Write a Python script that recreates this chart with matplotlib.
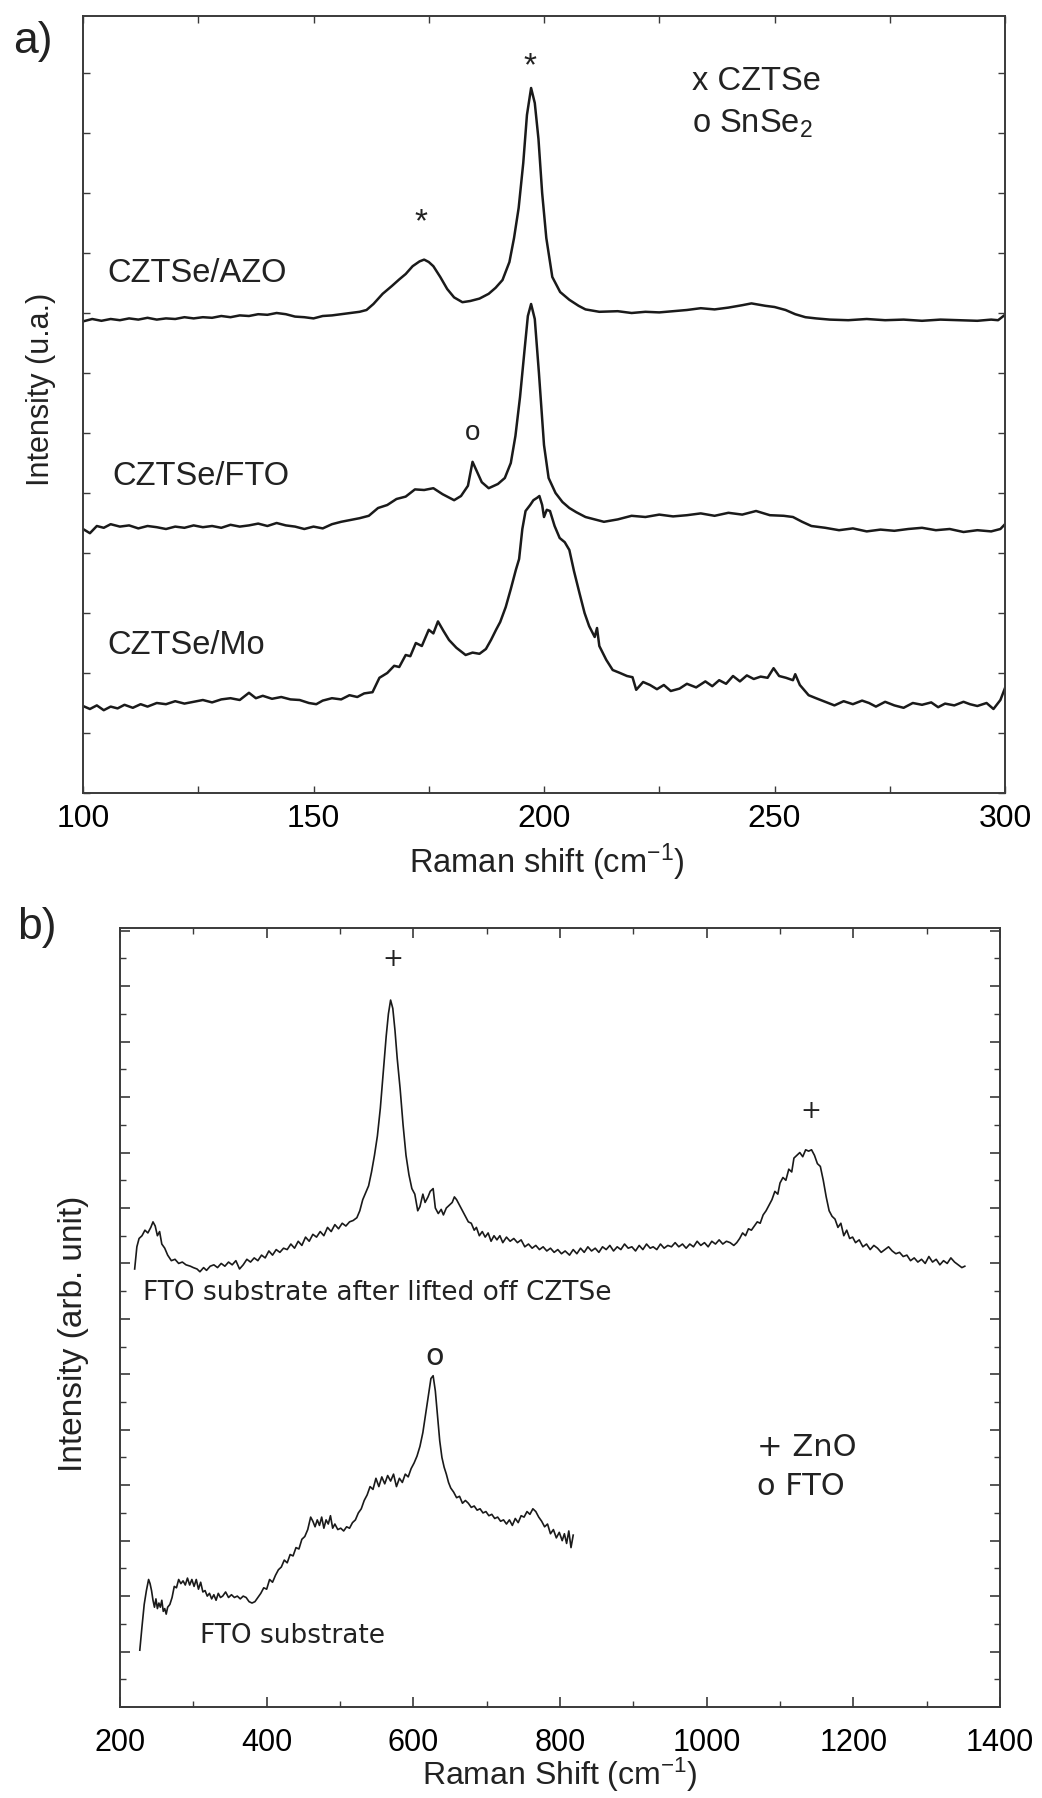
import numpy as np
import matplotlib
matplotlib.use('Agg')
import matplotlib.pyplot as plt
from matplotlib.ticker import MultipleLocator, NullFormatter

plt.rcParams['font.family'] = ['Liberation Sans', 'DejaVu Sans']
plt.rcParams['mathtext.default'] = 'regular'

# ---- panel a: Raman spectra (x in cm-1, y in arbitrary offset units) ----
azo = [(100, 7.86), (102, 7.90), (104, 7.87), (106, 7.90), (108, 7.88), (110, 7.91), (112, 7.89),
       (114, 7.92), (116, 7.89), (118, 7.91), (120, 7.90), (122, 7.93), (124, 7.91), (126, 7.93),
       (128, 7.92), (130, 7.95), (132, 7.93), (134, 7.96), (136, 7.95), (138, 7.98), (140, 7.97),
       (142, 8.00), (144, 7.98), (146, 7.94), (148, 7.93), (150, 7.91), (152, 7.95), (154, 7.96),
       (156, 7.98), (158, 8.00), (160, 8.02), (161.5, 8.05), (163, 8.15), (165, 8.32), (167, 8.45),
       (168.6, 8.56), (170, 8.65), (171.5, 8.78), (173, 8.86), (174, 8.89), (175, 8.85), (176, 8.78),
       (177.5, 8.60), (179, 8.40), (180.5, 8.26), (182.3, 8.18), (184, 8.20), (186, 8.24), (188, 8.32),
       (189.5, 8.42), (191, 8.55), (192.5, 8.85), (193.5, 9.25), (194.5, 9.75), (195.5, 10.5),
       (196.3, 11.3), (197.2, 11.75), (198, 11.5), (198.8, 10.9), (199.6, 10.0), (200.5, 9.25),
       (201.8, 8.6), (203.5, 8.35), (205.5, 8.22), (207.5, 8.12), (209, 8.06), (212, 8.02),
       (216, 8.03), (219, 8.00), (222, 8.02), (225, 8.01), (228, 8.03), (231, 8.05), (234, 8.08),
       (237, 8.06), (240, 8.09), (243, 8.13), (245, 8.16), (248, 8.12), (250, 8.10), (252.4, 8.05),
       (254.5, 7.98), (256.7, 7.93), (259, 7.91), (262, 7.89), (266, 7.88), (270, 7.90), (274, 7.88),
       (278, 7.89), (282, 7.87), (286, 7.89), (290, 7.88), (294, 7.87), (297, 7.89), (298.5, 7.88),
       (300, 7.97)]

fto = [(100, 4.40), (101.5, 4.33), (103, 4.45), (104.5, 4.42), (106, 4.48), (108, 4.44), (110, 4.46),
       (112, 4.41), (114, 4.45), (116, 4.43), (118, 4.40), (120, 4.44), (122, 4.42), (124, 4.46),
       (126, 4.43), (128, 4.45), (130, 4.42), (132, 4.47), (134, 4.44), (136, 4.46), (138, 4.49),
       (140, 4.45), (142, 4.50), (144, 4.46), (146, 4.44), (148, 4.40), (150, 4.44), (152, 4.41),
       (154, 4.48), (156, 4.52), (158, 4.55), (160, 4.58), (162, 4.62), (164, 4.75), (166, 4.80),
       (168, 4.90), (170, 4.94), (172, 5.06), (174, 5.05), (176, 5.08), (178, 4.98), (180.5, 4.88),
       (182, 4.95), (183.5, 5.12), (184.5, 5.52), (185.5, 5.35), (186.5, 5.18), (188, 5.08),
       (190, 5.15), (191.5, 5.25), (192.8, 5.50), (193.8, 5.95), (194.8, 6.60), (195.8, 7.40),
       (196.5, 7.95), (197.2, 8.15), (198, 7.90), (198.9, 7.00), (200, 5.80), (201, 5.25),
       (202.5, 5.00), (204, 4.85), (205.5, 4.75), (207, 4.68), (209, 4.60), (211, 4.56), (213, 4.52),
       (216, 4.56), (219, 4.62), (222, 4.60), (225, 4.64), (228, 4.61), (231, 4.63), (234, 4.66),
       (237, 4.62), (240, 4.67), (243, 4.64), (246, 4.70), (249, 4.63), (252, 4.62), (254, 4.60),
       (256, 4.52), (258, 4.45), (261, 4.42), (264, 4.38), (267, 4.41), (270, 4.36), (273, 4.39),
       (276, 4.37), (279, 4.40), (282, 4.42), (285, 4.38), (288, 4.40), (291, 4.35), (294, 4.38),
       (297, 4.36), (299, 4.40), (300, 4.48)]

mo = [(100, 1.45), (101.5, 1.40), (103, 1.46), (104.5, 1.38), (106, 1.44), (107.5, 1.41), (109, 1.47),
      (110.8, 1.42), (112.5, 1.48), (114, 1.44), (116, 1.50), (118, 1.48), (120, 1.53), (122, 1.49),
      (124, 1.52), (126, 1.55), (128, 1.51), (130, 1.56), (132, 1.58), (134, 1.55), (136, 1.67),
      (137.5, 1.58), (139, 1.62), (141, 1.57), (143, 1.60), (145, 1.56), (147, 1.55), (149, 1.50),
      (150.6, 1.48), (152, 1.54), (154, 1.58), (156, 1.56), (157.8, 1.63), (159.5, 1.60), (161, 1.66),
      (162.8, 1.68), (164.3, 1.92), (166, 2.00), (167.5, 2.12), (168.6, 2.10), (170, 2.30), (171, 2.28),
      (172.2, 2.50), (173.5, 2.45), (175, 2.72), (176, 2.66), (177, 2.86), (178.2, 2.70), (179.4, 2.55),
      (181, 2.42), (183, 2.30), (184.5, 2.34), (186, 2.32), (187.4, 2.40), (188.5, 2.55), (189.6, 2.72),
      (190.5, 2.85), (191.7, 3.10), (192.8, 3.40), (193.9, 3.72), (194.6, 3.90), (195.3, 4.40),
      (196, 4.70), (197, 4.80), (197.7, 4.88), (198.5, 4.92), (199, 4.95), (199.6, 4.80), (200, 4.60),
      (200.6, 4.72), (201.3, 4.70), (202.3, 4.45), (203.4, 4.25), (204.5, 4.18), (205.5, 4.05),
      (206.5, 3.70), (207.7, 3.33), (208.8, 3.00), (209.8, 2.78), (211, 2.60), (211.5, 2.75),
      (212, 2.45), (213.5, 2.22), (214.9, 2.05), (216.5, 2.00), (218, 1.95), (219.2, 1.93), (220, 1.72),
      (221.5, 1.85), (223, 1.80), (224.5, 1.73), (226, 1.80), (227.5, 1.70), (229.4, 1.74), (231, 1.82),
      (233, 1.76), (235, 1.86), (236.5, 1.78), (238, 1.88), (239.5, 1.82), (241, 1.95), (242.5, 1.86),
      (244, 1.96), (245.5, 1.90), (247, 1.94), (248.5, 1.92), (249.8, 2.08), (251, 1.95), (252.5, 1.92),
      (254, 1.88), (254.5, 1.98), (255.5, 1.80), (257.4, 1.63), (259, 1.58), (261, 1.52), (263, 1.46),
      (265, 1.53), (267, 1.48), (269, 1.54), (270.5, 1.50), (272, 1.44), (274, 1.52), (276, 1.46),
      (278, 1.42), (280, 1.50), (282, 1.47), (284, 1.51), (285.5, 1.43), (287, 1.49), (289, 1.46),
      (291, 1.52), (292.4, 1.48), (294, 1.45), (296, 1.50), (297.5, 1.40), (299, 1.55), (300, 1.75)]

# ---- panel b ----
lifted = [(220, 15.8), (223, 16.6), (226, 16.9), (230, 17.0), (234, 17.2), (238, 17.1), (242, 17.3),
          (245, 17.5), (248, 17.35), (251, 17.0), (254, 17.15), (257, 16.7), (261, 16.55), (265, 16.3),
          (270, 16.1), (275, 16.15), (280, 16.0), (285, 16.05), (290, 15.95), (296, 15.9), (300, 15.85),
          (305, 15.8), (309, 15.7), (314, 15.85), (318, 15.75), (323, 15.9), (328, 15.95), (333, 15.85),
          (338, 16.0), (343, 15.9), (348, 16.05), (353, 15.95), (358, 16.1), (363, 15.8), (368, 15.95),
          (373, 16.15), (378, 16.05), (383, 16.2), (388, 16.1), (393, 16.3), (398, 16.2), (403, 16.45),
          (408, 16.3), (413, 16.5), (418, 16.4), (423, 16.55), (428, 16.5), (433, 16.7), (438, 16.55),
          (443, 16.8), (448, 16.65), (453, 16.95), (458, 16.8), (463, 17.05), (468, 16.95), (473, 17.15),
          (478, 17.0), (483, 17.3), (488, 17.15), (493, 17.4), (498, 17.25), (503, 17.45), (508, 17.35),
          (513, 17.5), (518, 17.55), (523, 17.65), (527, 17.9), (531, 18.3), (535, 18.55), (539, 18.8),
          (543, 19.3), (547, 19.9), (551, 20.6), (555, 21.6), (559, 22.9), (563, 24.2), (566, 25.0),
          (569, 25.5), (572, 25.2), (575, 24.4), (578, 23.4), (582, 22.3), (586, 21.0), (590, 19.9),
          (594, 19.2), (598, 18.7), (602, 18.5), (606, 17.9), (609, 18.05), (613, 18.5), (616, 18.2),
          (620, 18.4), (623, 18.6), (627, 18.7), (630, 18.0), (634, 17.8), (638, 17.95), (641, 17.75),
          (645, 18.0), (649, 18.1), (653, 18.2), (656, 18.4), (659, 18.3), (663, 18.1), (667, 17.9),
          (671, 17.7), (675, 17.5), (679, 17.45), (683, 17.2), (686, 17.3), (690, 17.0), (694, 17.15),
          (698, 16.95), (702, 17.1), (706, 16.8), (710, 17.0), (714, 16.85), (718, 17.0), (722, 16.75),
          (727, 16.95), (732, 16.8), (737, 16.9), (742, 16.75), (747, 16.85), (752, 16.6), (757, 16.7),
          (762, 16.55), (767, 16.65), (772, 16.5), (777, 16.6), (782, 16.45), (787, 16.55), (792, 16.4),
          (797, 16.5), (802, 16.35), (807, 16.45), (813, 16.3), (818, 16.5), (823, 16.35), (828, 16.55),
          (833, 16.4), (838, 16.6), (843, 16.45), (848, 16.55), (853, 16.4), (858, 16.6), (863, 16.5),
          (868, 16.65), (873, 16.45), (878, 16.6), (883, 16.5), (888, 16.7), (893, 16.55), (898, 16.6),
          (903, 16.45), (908, 16.65), (913, 16.5), (918, 16.7), (923, 16.55), (927, 16.6), (932, 16.5),
          (937, 16.7), (942, 16.55), (947, 16.65), (952, 16.6), (957, 16.75), (962, 16.6), (967, 16.7),
          (972, 16.55), (977, 16.7), (982, 16.6), (987, 16.8), (992, 16.65), (997, 16.75), (1002, 16.6),
          (1007, 16.8), (1012, 16.7), (1017, 16.85), (1022, 16.7), (1027, 16.8), (1032, 16.75),
          (1037, 16.65), (1041, 16.75), (1045, 16.9), (1049, 17.1), (1053, 17.0), (1057, 17.25),
          (1061, 17.2), (1065, 17.35), (1069, 17.5), (1073, 17.45), (1077, 17.75), (1081, 17.9),
          (1085, 18.1), (1089, 18.3), (1093, 18.6), (1097, 18.5), (1100, 18.9), (1104, 19.1), (1108, 19.0),
          (1112, 19.4), (1116, 19.3), (1119, 19.8), (1123, 19.9), (1127, 20.0), (1131, 19.85), (1135, 20.1),
          (1139, 20.05), (1143, 20.1), (1147, 19.9), (1151, 19.6), (1155, 19.5), (1159, 19.0), (1163, 18.4),
          (1167, 17.9), (1171, 17.7), (1175, 17.6), (1179, 17.3), (1183, 17.45), (1187, 17.0), (1191, 17.2),
          (1195, 16.9), (1199, 16.95), (1203, 16.75), (1208, 16.85), (1213, 16.6), (1218, 16.7),
          (1223, 16.5), (1228, 16.65), (1233, 16.55), (1238, 16.4), (1243, 16.5), (1248, 16.6),
          (1253, 16.45), (1258, 16.35), (1263, 16.4), (1268, 16.25), (1273, 16.3), (1278, 16.1),
          (1283, 16.2), (1288, 16.05), (1293, 16.15), (1298, 16.0), (1303, 16.25), (1308, 16.05),
          (1313, 16.15), (1318, 15.95), (1323, 16.1), (1328, 16.0), (1333, 16.2), (1338, 16.05),
          (1343, 15.95), (1348, 15.85), (1352, 15.9)]

substrate = [(227, 2.05), (230, 2.9), (233, 3.7), (236, 4.2), (239, 4.6), (241, 4.45), (243, 4.2),
             (245, 3.85), (247, 3.6), (249, 3.9), (251, 3.55), (253, 3.75), (255, 3.6), (257, 3.85),
             (259, 3.45), (261, 3.55), (263, 3.35), (265, 3.6), (268, 3.7), (271, 3.95), (274, 4.35),
             (277, 4.3), (280, 4.6), (283, 4.45), (286, 4.55), (289, 4.4), (292, 4.65), (295, 4.4),
             (298, 4.6), (301, 4.35), (304, 4.6), (307, 4.25), (310, 4.5), (313, 4.15), (316, 4.2),
             (319, 4.0), (322, 4.1), (325, 3.9), (328, 4.05), (331, 3.85), (334, 4.1), (337, 3.95),
             (340, 4.0), (344, 4.15), (348, 3.95), (352, 4.05), (356, 3.95), (360, 4.0), (364, 3.9),
             (368, 4.0), (372, 3.95), (376, 3.8), (380, 3.75), (384, 3.8), (388, 3.95), (392, 4.1),
             (396, 4.3), (400, 4.25), (404, 4.6), (408, 4.5), (412, 4.75), (416, 4.95), (420, 5.05),
             (424, 5.3), (428, 5.2), (432, 5.5), (436, 5.45), (440, 5.75), (444, 5.7), (448, 6.05),
             (452, 6.15), (456, 6.4), (460, 6.85), (463, 6.7), (466, 6.5), (469, 6.75), (472, 6.55),
             (475, 6.85), (478, 6.45), (481, 6.75), (484, 6.6), (487, 6.9), (490, 6.45), (493, 6.6),
             (497, 6.4), (501, 6.45), (505, 6.35), (509, 6.5), (513, 6.45), (517, 6.65), (521, 6.75),
             (525, 7.0), (529, 7.15), (533, 7.45), (537, 7.65), (541, 7.95), (545, 7.85), (549, 8.25),
             (553, 7.95), (557, 8.3), (561, 8.05), (565, 8.35), (569, 8.15), (573, 8.4), (577, 7.95),
             (581, 8.25), (585, 8.1), (589, 8.4), (593, 8.3), (597, 8.6), (601, 8.8), (605, 9.05),
             (609, 9.4), (613, 9.9), (617, 10.6), (621, 11.3), (624, 11.85), (627, 11.95), (630, 11.4),
             (633, 10.5), (636, 9.6), (639, 9.0), (642, 8.65), (645, 8.4), (648, 8.1), (651, 7.9),
             (655, 7.75), (659, 7.55), (663, 7.6), (667, 7.35), (671, 7.45), (675, 7.35), (679, 7.2),
             (683, 7.25), (687, 7.1), (691, 7.15), (695, 7.0), (699, 7.05), (703, 6.9), (707, 6.95),
             (711, 6.8), (715, 6.85), (719, 6.7), (723, 6.75), (727, 6.6), (731, 6.75), (735, 6.55),
             (739, 6.8), (743, 6.65), (747, 6.9), (751, 6.85), (755, 7.05), (759, 6.95), (763, 7.15),
             (767, 7.05), (771, 6.85), (775, 6.7), (779, 6.5), (783, 6.6), (787, 6.25), (791, 6.4),
             (795, 6.1), (799, 6.3), (803, 6.0), (806, 6.25), (809, 5.9), (812, 6.35), (815, 5.75),
             (818, 6.2)]

W, H = 1042, 1798
fig = plt.figure(figsize=(W / 100, H / 100), dpi=100)


def px(x, y):
    return x / W, 1 - y / H


line_col = '#1a1a1a'
spine_col = '#3a3a3a'
txt_col = '#222222'
wide = ['DejaVu Sans']

# ---------------- panel a ----------------
ax1 = fig.add_axes([83 / W, 1 - 793 / H, 922 / W, 777 / H])
for data in [azo, fto, mo]:
    d = np.array(data)
    ax1.plot(d[:, 0], d[:, 1], color=line_col, lw=1.8)
ax1.set_xlim(100, 300)
ax1.set_ylim(0, 12.95)
ax1.xaxis.set_major_locator(MultipleLocator(50))
ax1.xaxis.set_minor_locator(MultipleLocator(25))
ax1.yaxis.set_major_locator(MultipleLocator(1))
ax1.yaxis.set_major_formatter(NullFormatter())
ax1.tick_params(which='both', direction='in', top=True, right=True, length=5, width=1,
                color=spine_col, labelsize=23, pad=8)
for s in ax1.spines.values():
    s.set_linewidth(1.4)
    s.set_color(spine_col)

ax1.text(105.2, 8.65, 'CZTSe/AZO', fontsize=23.5, va='center', color=txt_col)
ax1.text(106.3, 5.28, 'CZTSe/FTO', fontsize=23.5, va='center', color=txt_col)
ax1.text(105.2, 2.45, 'CZTSe/Mo', fontsize=23.5, va='center', color=txt_col)
ax1.text(232.1, 11.85, 'x CZTSe', fontsize=23.5, va='center', color=txt_col)
ax1.text(232.1, 11.16, 'o SnSe$_2$', fontsize=23.5, va='center', color=txt_col)
ax1.text(197.0, 12.1, '*', fontsize=24, ha='center', va='center', color=txt_col)
ax1.text(173.3, 9.5, '*', fontsize=24, ha='center', va='center', color=txt_col)
ax1.text(184.6, 6.0, 'o', fontsize=20, ha='center', va='center', color=txt_col)

fig.text(*px(13, 42), 'a)', fontsize=32, va='center', ha='left', color=txt_col)
fig.text(*px(41, 389), 'Intensity (u.a.)', fontsize=22, rotation=90, ha='center', va='center',
         color=txt_col)
fig.text(*px(547, 862), 'Raman shift (cm$^{-1}$)', fontsize=23.5, ha='center', va='center',
         color=txt_col)

# ---------------- panel b ----------------
ax2 = fig.add_axes([120 / W, 1 - 1707 / H, 880 / W, 779 / H])
for data in [lifted, substrate]:
    d = np.array(data)
    ax2.plot(d[:, 0], d[:, 1], color=line_col, lw=1.2)
ax2.set_xlim(200, 1400)
ax2.set_ylim(0, 28.1)
ax2.xaxis.set_major_locator(MultipleLocator(200))
ax2.xaxis.set_minor_locator(MultipleLocator(100))
ax2.yaxis.set_major_locator(MultipleLocator(2))
ax2.yaxis.set_minor_locator(MultipleLocator(1))
ax2.yaxis.set_major_formatter(NullFormatter())
ax2.tick_params(which='major', direction='in', top=True, right=True, length=7, width=1.2,
                color=spine_col, labelsize=22, pad=15)
ax2.tick_params(which='minor', direction='in', top=True, right=True, length=4, width=1,
                color=spine_col)
for s in ax2.spines.values():
    s.set_linewidth(1.4)
    s.set_color(spine_col)

ax2.text(572, 26.97, '+', fontsize=18, ha='center', va='center', color=txt_col, family=wide)
ax2.text(1142, 21.5, '+', fontsize=18, ha='center', va='center', color=txt_col, family=wide)
ax2.text(629.5, 12.64, 'o', fontsize=22, ha='center', va='center', color=txt_col, family=wide)
ax2.text(231, 14.93, 'FTO substrate after lifted off CZTSe', fontsize=19, va='center',
         color=txt_col, family=wide)
ax2.text(309, 2.55, 'FTO substrate', fontsize=19, va='center', color=txt_col, family=wide)
ax2.text(1068.6, 9.37, '+ ZnO', fontsize=22, va='center', color=txt_col, family=wide)
ax2.text(1068.6, 7.94, 'o FTO', fontsize=22, va='center', color=txt_col, family=wide)

fig.text(*px(17, 927), 'b)', fontsize=32, va='center', ha='left', color=txt_col)
fig.text(*px(74, 1334), 'Intensity (arb. unit)', fontsize=24, rotation=90, ha='center',
         va='center', color=txt_col)
fig.text(*px(560, 1775), 'Raman Shift (cm$^{-1}$)', fontsize=23, ha='center', va='center',
         color=txt_col)

fig.savefig('out.png', dpi=100, facecolor='white')
